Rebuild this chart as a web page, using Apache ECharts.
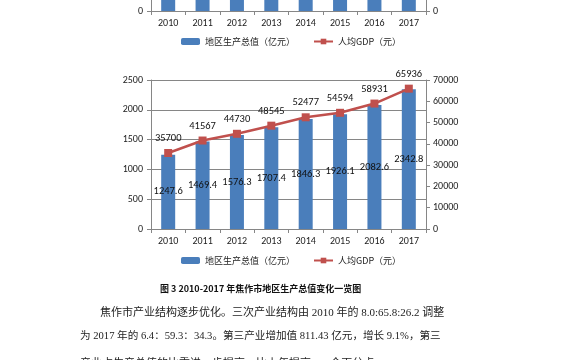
<!DOCTYPE html>
<html><head><meta charset="utf-8">
<script src="https://cdn.jsdelivr.net/npm/echarts@6/dist/echarts.min.js"></script>
<style>html,body{margin:0;padding:0;background:#fff}#c{width:570px;height:360px}</style>
</head><body><div id="c"></div>
<script>
// ---- data ----
const years = ['2010','2011','2012','2013','2014','2015','2016','2017'];
const gdp = [1247.6, 1469.4, 1576.3, 1707.4, 1846.3, 1926.1, 2082.6, 2342.8];      // 地区生产总值（亿元）
const gdpPerCapita = [35700, 41567, 44730, 48545, 52477, 54594, 58931, 65936];       // 人均GDP（元）
const leftTicks = [0, 500, 1000, 1500, 2000, 2500];
const rightTicks = [0, 10000, 20000, 30000, 40000, 50000, 60000, 70000];
// previous figure (cut off at the top of the page): only the bar bottoms are visible
const prevBars = [1000, 1000, 1000, 1000, 1000, 1000, 1000, 1000];
const prevLine = [50000, 50000, 50000, 50000, 50000, 50000, 50000, 50000];
const nameBar = '地区生产总值（亿元）';
const nameLine = '人均GDP（元）';
const caption = '图 3 2010-2017 年焦作市地区生产总值变化一览图';
const paraLines = [
  '焦作市产业结构逐步优化。三次产业结构由 2010 年的 8.0:65.8:26.2 调整',
  '为 2017 年的 6.4：59.3：34.3。第三产业增加值 811.43 亿元，增长 9.1%，第三',
  '产业占生产总值的比重进一步提高，比上年提高 2.2 个百分点。'
];

const BLUE = '#4A7EBB', RED = '#C0504D', AX = '#868686';
const numFont = "Carlito, 'Liberation Sans Narrow', 'Liberation Sans', sans-serif";
const cjkFont = "'Noto Sans CJK SC', sans-serif";
const paraFont = "'Liberation Serif', 'Noto Sans CJK SC', serif";

const chart = echarts.init(document.getElementById('c'), null, {renderer:'canvas'});

function xAx(grid){
  return {type:'category', gridIndex:grid, data:years, boundaryGap:true,
    axisLine:{lineStyle:{color:AX,width:1}},
    axisTick:{show:true,length:4,lineStyle:{color:AX},alignWithLabel:false},
    axisLabel:{fontFamily:numFont,fontSize:10,color:'#222',margin:7}};
}
function yAx(grid,pos,min,max,interval,split,onlyZero){
  return {type:'value', gridIndex:grid, position:pos, min:min, max:max, interval:interval,
    axisLine:{show:true,lineStyle:{color:AX}},
    axisTick:{show:true,length:4,lineStyle:{color:AX}},
    splitLine:{show:split,lineStyle:{color:AX,width:1}},
    axisLabel:{fontFamily:numFont,fontSize:10,color:'#222',margin:pos==='left'?8:7,
      showMaxLabel: !onlyZero,
      formatter: onlyZero ? (v => v===0 ? '0' : '') : (v => String(v))}};
}

const option = {
  animation:false,
  backgroundColor:'#fff',
  grid:[
    {left:151, width:275, top:0, height:11},
    {left:151, width:275, top:80, height:149}
  ],
  xAxis:[xAx(0), xAx(1)],
  yAxis:[
    yAx(0,'left',0,200,200,false,true),
    yAx(0,'right',0,200,200,false,true),
    yAx(1,'left',leftTicks[0],leftTicks[leftTicks.length-1],leftTicks[1]-leftTicks[0],true,false),
    yAx(1,'right',rightTicks[0],rightTicks[rightTicks.length-1],rightTicks[1]-rightTicks[0],false,false)
  ],
  legend:[
    {data:[nameBar,{name:nameLine}], left:181, top:37, padding:0, itemGap:18, itemWidth:19, itemHeight:7,
     textStyle:{fontFamily:cjkFont,fontSize:9,color:'#222'}},
    {data:[nameBar,{name:nameLine}], left:181, top:256, padding:0, itemGap:18, itemWidth:19, itemHeight:7,
     textStyle:{fontFamily:cjkFont,fontSize:9,color:'#222'}}
  ],
  series:[
    {name:nameBar, type:'bar', xAxisIndex:0, yAxisIndex:0, data:prevBars, barWidth:14, clip:true,
     itemStyle:{color:BLUE}},
    {name:nameLine, type:'line', xAxisIndex:0, yAxisIndex:1, data:prevLine, clip:true, symbol:'rect', symbolSize:8,
     lineStyle:{color:RED,width:2.5}, itemStyle:{color:RED}},
    {name:nameBar, type:'bar', xAxisIndex:1, yAxisIndex:2, data:gdp, barWidth:14,
     itemStyle:{color:BLUE},
     label:{show:true, position:'inside', color:'#111', fontFamily:numFont, fontSize:10.5}},
    {name:nameLine, type:'line', xAxisIndex:1, yAxisIndex:3, data:gdpPerCapita, symbol:'rect', symbolSize:8,
     lineStyle:{color:RED,width:2.5}, itemStyle:{color:RED},
     label:{show:true, position:'top', distance:5, color:'#111', fontFamily:numFont, fontSize:10.5}}
  ],
  graphic:[
    {type:'text', left:160, top:284, style:{text:caption, fontFamily:cjkFont, fontWeight:'bold', fontSize:9, fill:'#111'}},
    {type:'text', left:100, top:308, style:{text:paraLines[0], fontFamily:paraFont, fontSize:11, fill:'#222'}},
    {type:'text', left:80, top:331, style:{text:paraLines[1], fontFamily:paraFont, fontSize:10.6, fill:'#222'}},
    {type:'text', left:80, top:359, style:{text:paraLines[2], fontFamily:paraFont, fontSize:11, fill:'#222'}}
  ]
};
chart.setOption(option);
</script></body></html>
